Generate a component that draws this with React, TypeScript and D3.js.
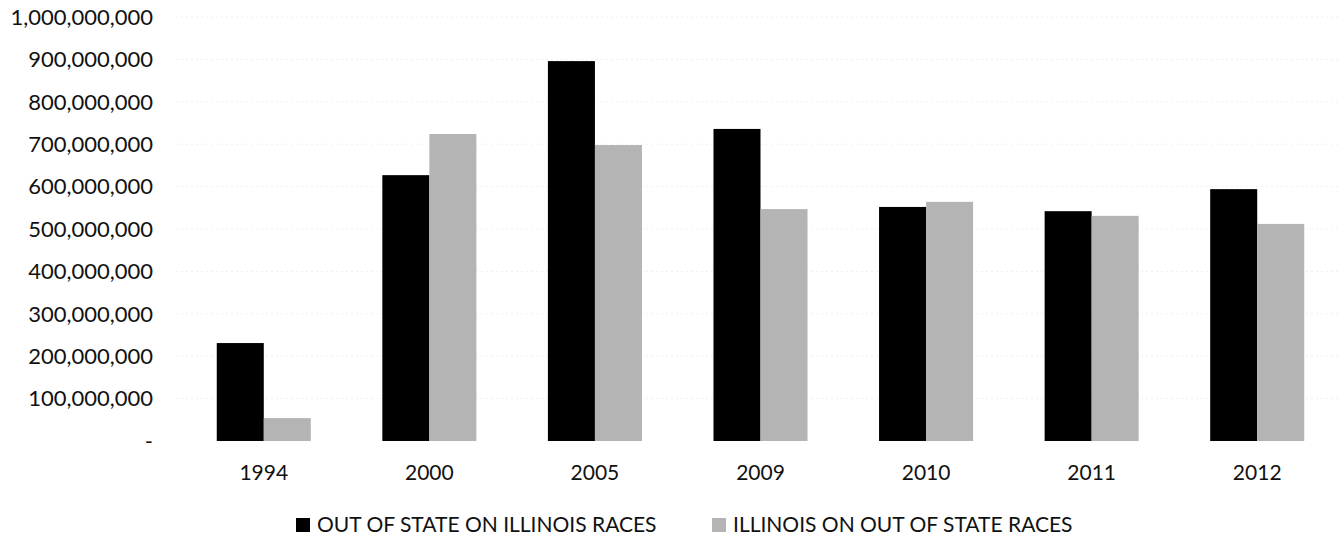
import * as d3 from "d3";

const years = ["1994", "2000", "2005", "2009", "2010", "2011", "2012"];
const outOfState = [231e6, 627e6, 896e6, 736e6, 552e6, 542e6, 594e6];
const illinois = [54e6, 724e6, 698e6, 547e6, 564e6, 531e6, 512e6];
const seriesNames = ["OUT OF STATE ON ILLINOIS RACES", "ILLINOIS ON OUT OF STATE RACES"];
const colors = ["#000000", "#b4b4b4"];
const yTicks = d3.range(0, 1000000001, 100000000);

const App = () => {
  const width = 1339;
  const height = 540;
  const marginLeft = 181;
  const marginRight = -1;
  const marginTop = 17;
  const bottomY = 441;

  const x = d3
    .scaleBand()
    .domain(years)
    .range([marginLeft, width - marginRight])
    .paddingInner(0.432)
    .paddingOuter(0.216);
  const sub = d3.scaleBand().domain(["0", "1"]).range([0, x.bandwidth()]);
  const y = d3.scaleLinear([0, 1000000000], [bottomY, marginTop]);
  const fmt = d3.format(",");
  const font = "Lato, 'Open Sans', sans-serif";

  const series = [outOfState, illinois];
  const legendX = [296, 712];

  return (
    <svg
      width={width}
      height={height}
      style={{ position: "absolute", left: 0, top: 0, background: "#fff" }}
      fontFamily={font}
    >
      <g>
        {yTicks.slice(1).map((t) => (
          <line
            key={t}
            x1={176}
            x2={width}
            y1={y(t)}
            y2={y(t)}
            stroke="#f0f0f0"
            strokeDasharray="2,3"
          />
        ))}
      </g>
      <g fontSize={22} textAnchor="end" fill="#111">
        {yTicks.map((t) => (
          <text key={t} x={153} y={y(t)} dy="0.35em">
            {t === 0 ? "-" : fmt(t)}
          </text>
        ))}
      </g>
      {series.map((vals, s) => (
        <g key={s} fill={colors[s]}>
          {vals.map((v, i) => (
            <rect
              key={i}
              x={x(years[i])! + sub(String(s))!}
              y={y(v)}
              width={sub.bandwidth()}
              height={y(0) - y(v)}
            />
          ))}
        </g>
      ))}
      <g fontSize={21} textAnchor="middle" fill="#111">
        {years.map((yr) => (
          <text key={yr} x={x(yr)! + x.bandwidth() / 2} y={473} dy="0.35em">
            {yr}
          </text>
        ))}
      </g>
      <g fontSize={21} fill="#111">
        {seriesNames.map((name, s) => {
          const lx = legendX[s];
          return (
            <g key={name}>
              <rect x={lx} y={518} width={14} height={14} fill={colors[s]} />
              <text x={lx + 21} y={525} dy="0.35em">
                {name}
              </text>
            </g>
          );
        })}
      </g>
    </svg>
  );
};

export default App;
